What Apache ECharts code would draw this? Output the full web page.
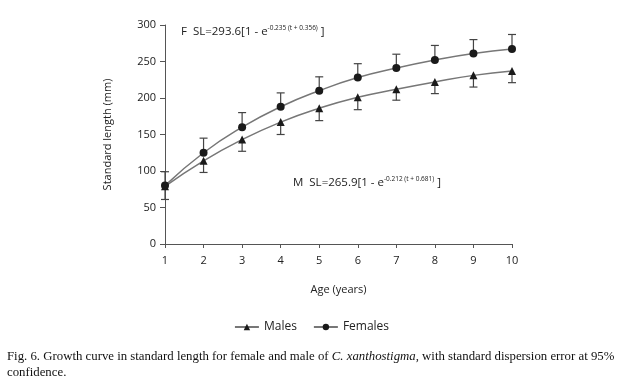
<!DOCTYPE html>
<html lang="en">
<head>
  <meta charset="UTF-8">
  <title>Growth curve</title>
  <script src="https://cdn.jsdelivr.net/npm/echarts@6/dist/echarts.min.js"></script>
</head>
<body style="margin:0;background:#fff">
  <div id="chart" style="width: 623px;height: 383px;"></div>
  <script>
    const myEcharts = echarts.init(document.getElementById('chart'))

    const ages = [1, 2, 3, 4, 5, 6, 7, 8, 9, 10]
    const females = [80, 125, 160, 188, 210, 228, 241, 252, 261, 267]
    const femalesUpper = [99, 145, 180, 207, 229, 247, 260, 272, 280, 287]
    const males = [79, 114, 143, 167, 186, 201, 212, 222, 231, 237]
    const malesLower = [61, 98, 127, 150, 169, 184, 197, 206, 215, 221]

    const sans = "'Open Sans', 'Noto Sans', sans-serif"
    const serif = "'Liberation Serif', 'DejaVu Serif', serif"

    // 误差线: 竖线 + 横帽
    function errorBar(params, api) {
      const x = api.value(0)
      const p0 = api.coord([x, api.value(1)])
      const p1 = api.coord([x, api.value(2)])
      const w = 4
      const style = { stroke: '#444', lineWidth: 1.2 }
      return {
        type: 'group',
        children: [
          { type: 'line', shape: { x1: p0[0], y1: p0[1], x2: p1[0], y2: p1[1] }, style },
          { type: 'line', shape: { x1: p1[0] - w, y1: p1[1], x2: p1[0] + w, y2: p1[1] }, style }
        ]
      }
    }

    const eqRich = {
      t: { fontSize: 11.5, fill: '#222', fontFamily: sans, verticalAlign: 'bottom' },
      s: { fontSize: 6.5, fill: '#222', fontFamily: sans, verticalAlign: 'top', padding: [0, 0, 6, 0] }
    }

    const option = {
      animation: false,
      textStyle: { fontFamily: sans },
      grid: { left: 165, right: 111, top: 25, bottom: 139 },
      legend: {
        top: 316,
        left: 'center',
        itemWidth: 24,
        itemHeight: 8,
        itemGap: 16,
        textStyle: { fontSize: 12, color: '#222', fontFamily: sans },
        data: ['Males', 'Females']
      },
      xAxis: {
        type: 'value',
        min: 1,
        max: 10,
        interval: 1,
        name: 'Age (years)',
        nameLocation: 'middle',
        nameGap: 40,
        nameTextStyle: { fontSize: 11, color: '#222' },
        splitLine: { show: false },
        axisLine: { lineStyle: { color: '#555' } },
        axisTick: { lineStyle: { color: '#555' }, length: 4 },
        axisLabel: { fontSize: 11, color: '#222', margin: 11 }
      },
      yAxis: {
        type: 'value',
        min: 0,
        max: 300,
        interval: 50,
        name: 'Standard length (mm)',
        nameLocation: 'middle',
        nameGap: 52,
        nameTextStyle: { fontSize: 11, color: '#222' },
        splitLine: { show: false },
        axisLine: { show: true, lineStyle: { color: '#555' } },
        axisTick: { show: true, lineStyle: { color: '#555' }, length: 5 },
        axisLabel: { fontSize: 11, color: '#222', margin: 9 }
      },
      graphic: [
        {
          type: 'text', left: 181, top: 25,
          style: { text: '{t|F  SL=293.6[1 - e}{s|-0.235 (t + 0.356)}{t| ]}', rich: eqRich }
        },
        {
          type: 'text', left: 293, top: 176,
          style: { text: '{t|M  SL=265.9[1 - e}{s|-0.212 (t + 0.681)}{t| ]}', rich: eqRich }
        },
        {
          type: 'text', left: 7, top: 350,
          style: {
            text: '{a|Fig. 6. Growth curve in standard length for female and male of }{i|C. xanthostigma}{a|, with standard dispersion error at 95%}\n{a|confidence.}',
            rich: {
              a: { fontSize: 12.8, fill: '#111', fontFamily: serif, lineHeight: 16 },
              i: { fontSize: 12.8, fill: '#111', fontFamily: serif, fontStyle: 'italic', lineHeight: 16 }
            }
          }
        }
      ],
      series: [
        {
          type: 'custom',
          renderItem: errorBar,
          data: ages.map((a, i) => [a, females[i], femalesUpper[i]]),
          silent: true,
          z: 1
        },
        {
          type: 'custom',
          renderItem: errorBar,
          data: ages.map((a, i) => [a, males[i], malesLower[i]]),
          silent: true,
          z: 1
        },
        {
          type: 'line',
          name: 'Males',
          smooth: true,
          symbol: 'triangle',
          symbolSize: 8,
          data: ages.map((a, i) => [a, males[i]]),
          lineStyle: { color: '#777', width: 1.5 },
          itemStyle: { color: '#1a1a1a' },
          z: 3
        },
        {
          type: 'line',
          name: 'Females',
          smooth: true,
          symbol: 'circle',
          symbolSize: 8,
          data: ages.map((a, i) => [a, females[i]]),
          lineStyle: { color: '#777', width: 1.5 },
          itemStyle: { color: '#1a1a1a' },
          z: 3
        }
      ]
    }

    myEcharts.setOption(option)
  </script>
</body>
</html>
